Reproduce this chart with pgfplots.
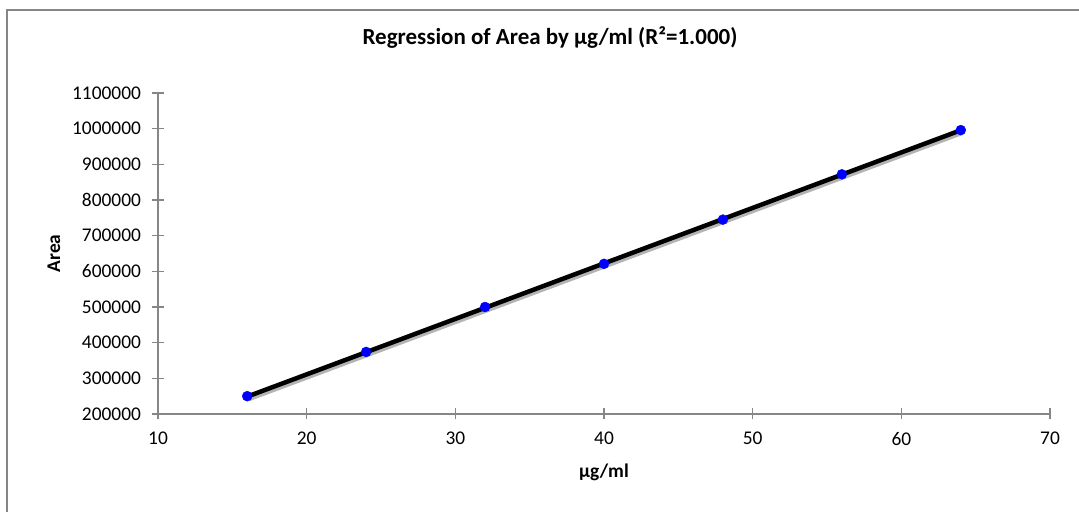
\documentclass[border=0pt]{standalone}
\usepackage{pgfplots}
\pgfplotsset{compat=1.18}
\usepackage{fontspec}
\setmainfont{Carlito}
\definecolor{axgray}{HTML}{868686}
\definecolor{ptblue}{HTML}{0000FF}
\definecolor{shadowgray}{HTML}{B4B4B4}
\begin{document}
\begin{tikzpicture}
\useasboundingbox (0,0) rectangle (1079bp,512bp);
% chart frame (right and bottom edges lie outside the picture)
\draw[axgray, line width=2.2bp] (7bp,-5bp) -- (7bp,502bp) -- (1090bp,502bp);
\begin{axis}[
  at={(158bp,98bp)}, anchor=south west,
  scale only axis, width=892bp, height=321bp,
  xmin=10, xmax=70, ymin=200000, ymax=1100000,
  xtick={10,20,...,70},
  ytick={200000,300000,...,1100000},
  axis x line=bottom, axis y line=left,
  axis line style={axgray, line width=1.5bp, -},
  tick style={axgray, line width=1.5bp},
  major tick length=11bp, tick align=center,
  scaled y ticks=false,
  /pgf/number format/assume math mode=true,
  /pgf/number format/1000 sep={},
  /pgf/number format/fixed,
  ticklabel style={font=\fontsize{19.4bp}{22bp}\selectfont, text=black},
  yticklabel style={xshift=-8bp},
  xticklabel style={yshift=-9bp},
  title={Regression of Area by µg/ml (R²=1.000)},
  title style={font=\fontsize{23bp}{27bp}\selectfont\bfseries,
    at={(axis description cs:0.4395,1.1558)}, anchor=center},
  xlabel={µg/ml},
  xlabel style={font=\fontsize{19.4bp}{22bp}\selectfont\bfseries,
    at={(axis description cs:0.5,-0.1807)}, anchor=center},
  ylabel={Area},
  ylabel style={font=\fontsize{19.4bp}{22bp}\selectfont\bfseries,
    at={(axis description cs:-0.1166,0.5)}, anchor=center},
  clip=false,
]
\addplot[only marks, mark=*, mark size=5bp,
  mark options={fill=ptblue, draw=ptblue}] coordinates {
  (16,250000) (24,374000) (32,500000) (40,621000)
  (48,745000) (56,872000) (64,996000)
};
% fitted line with its shadow
\addplot[shadowgray, line width=4.5bp, xshift=1.5bp, yshift=-2.5bp] coordinates {
  (16,248800) (64,995600)
};
\addplot[black, line width=4.5bp] coordinates {
  (16,248800) (64,995600)
};
\end{axis}
\end{tikzpicture}
\end{document}
